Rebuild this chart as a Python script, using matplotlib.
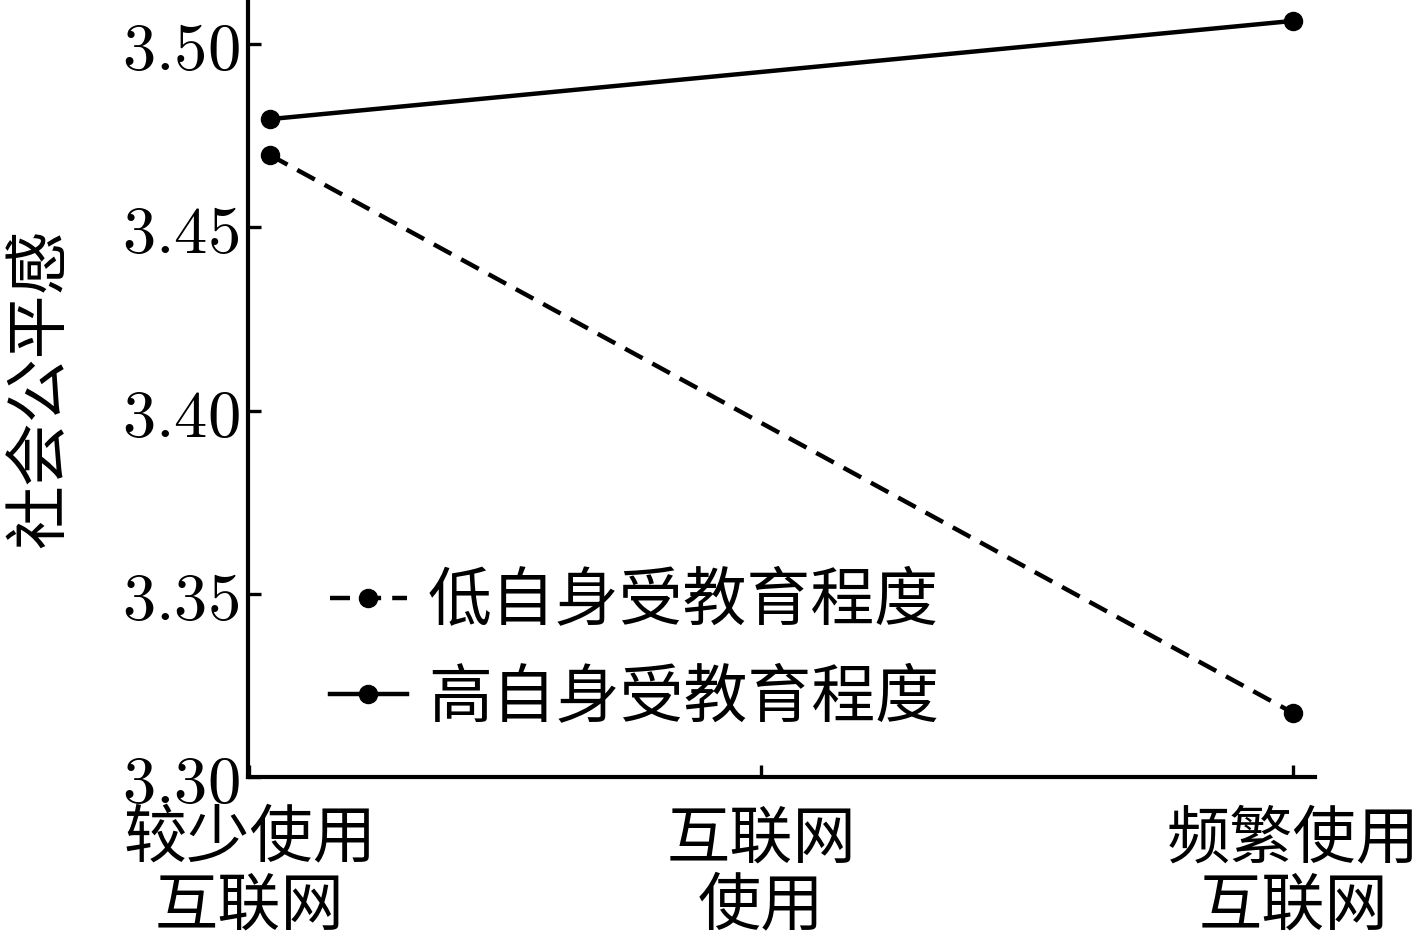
import numpy as np
import matplotlib
matplotlib.use("Agg")
import matplotlib.pyplot as plt

plt.rcParams['font.family'] = ['Noto Sans CJK SC', 'DejaVu Sans']
plt.rcParams['mathtext.fontset'] = 'cm'

# data
x_pos = [0.0, 1.0]
low_edu = [3.4697, 3.3175]
high_edu = [3.4795, 3.5063]
series_labels = ["低自身受教育程度", "高自身受教育程度"]
xtick_pos = [-0.02, 0.48, 1.0]
xtick_labels = ["较少使用\n互联网", "互联网\n使用", "频繁使用\n互联网"]
ytick_vals = [3.30, 3.35, 3.40, 3.45, 3.50]
ylabel = "社会公平感"

fig = plt.figure(figsize=(14.16, 9.38), dpi=100)
ax = fig.add_axes([0.1751, 0.1716, 0.7536, 0.8284])

ax.plot(x_pos, low_edu, color='black', lw=3.2, ls=(0, (4.5, 2.5)),
        marker='o', ms=13, label=series_labels[0])
ax.plot(x_pos, high_edu, color='black', lw=3.2, ls='-',
        marker='o', ms=13, label=series_labels[1])

ax.set_xlim(-0.0215, 1.0215)
ax.set_ylim(3.30, 3.512)

ax.set_xticks(xtick_pos)
ax.set_xticklabels(xtick_labels, fontsize=45.5, linespacing=1.05)
ax.set_yticks(ytick_vals)
ax.set_yticklabels([f"${v:.2f}$" for v in ytick_vals], fontsize=48)

ax.tick_params(direction='in', length=9, width=2.4, color='black')
ax.tick_params(axis='x', pad=22)
ax.tick_params(axis='y', pad=6)

for s in ['top', 'right']:
    ax.spines[s].set_visible(False)
for s in ['left', 'bottom']:
    ax.spines[s].set_linewidth(3)

ax.set_ylabel(ylabel, fontsize=46)
ax.yaxis.set_label_coords(-0.164, 0.5)

ax.legend(loc='upper left', bbox_to_anchor=(0.077, 0.268), frameon=False,
          fontsize=46, handlelength=1.2, handletextpad=0.33,
          labelspacing=0.47, borderpad=0, borderaxespad=0)

fig.savefig("out.png", dpi=100)
